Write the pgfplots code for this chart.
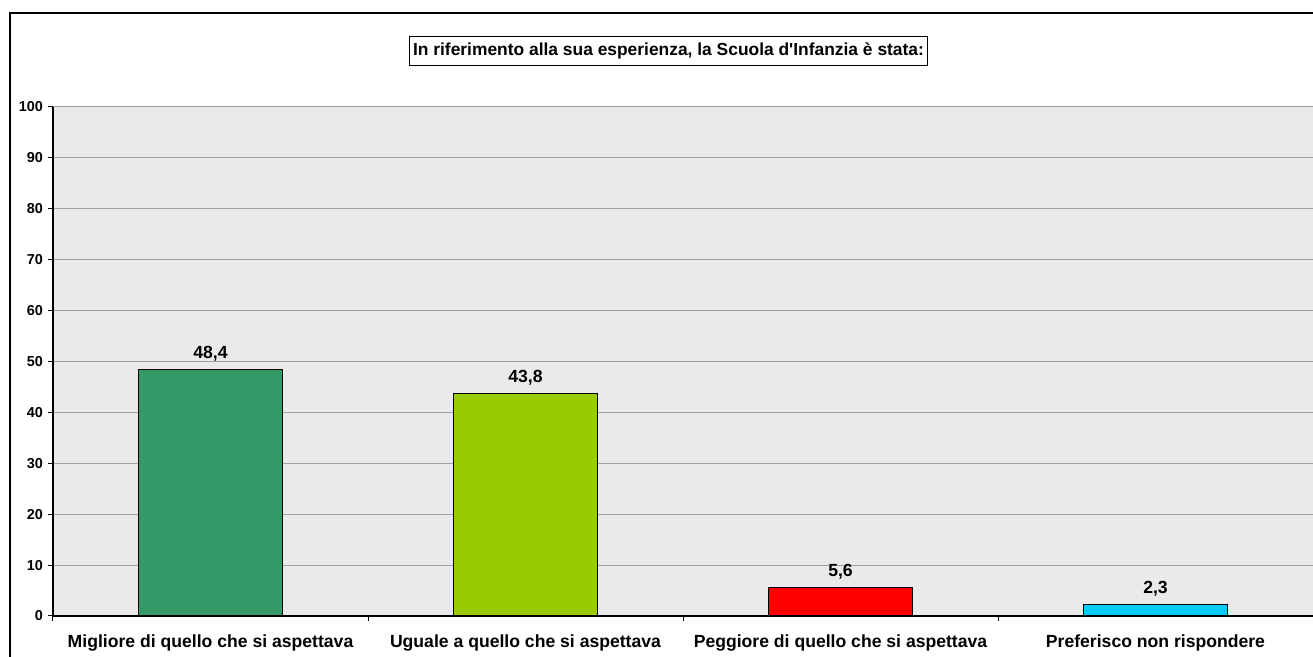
\documentclass[border=0pt]{standalone}
\usepackage{pgfplots}
\pgfplotsset{compat=1.18}
\usepackage{fontspec}
\setmainfont{Liberation Sans}[Ligatures=TeXOff]
\definecolor{cgreen}{HTML}{339966}
\definecolor{clime}{HTML}{99CC00}
\definecolor{cred}{HTML}{FF0000}
\definecolor{ccyan}{HTML}{00CCFF}
\definecolor{plotbg}{HTML}{EAEAEA}
\definecolor{gridgray}{HTML}{A0A0A0}
\begin{document}
\begin{tikzpicture}
% page = 1313 x 657 px, 1 px = 0.5pt
\path[use as bounding box] (0,0) rectangle (656.5pt,328.5pt);
\draw[line width=1.1pt] (5pt,-20pt) -- (5pt,322pt) -- (680pt,322pt);
\node[draw=black, line width=0.5pt, inner xsep=2pt, inner ysep=3pt,
      font=\bfseries\fontsize{8.7}{10}\selectfont] at (334.25pt,303pt)
  {In riferimento alla sua esperienza, la Scuola d'Infanzia è stata:};
\begin{axis}[
    at={(26.5pt,20.5pt)}, anchor=south west,
    scale only axis,
    width=630pt, height=254.5pt,
    xmin=0, xmax=4, ymin=0, ymax=100,
    ybar, bar width=72pt,
    axis lines*=left,
    axis line style={-, black, line width=0.6pt},
    axis background/.style={fill=plotbg},
    ymajorgrids, grid style={gridgray, line width=0.5pt},
    ytick={0,10,...,100},
    xtick={0,1,2,3,4}, xticklabels={},
    extra x ticks={0.5,1.5,2.5,3.5},
    extra x tick labels={Migliore di quello che si aspettava, Uguale a quello che si aspettava, Peggiore di quello che si aspettava, Preferisco non rispondere},
    extra x tick style={major tick length=0pt, grid=none,
        tick label style={font=\bfseries\fontsize{8.8}{10}\selectfont, yshift=-6pt}},
    tick align=outside, major tick length=2.5pt,
    tick style={black, line width=0.5pt},
    yticklabel style={font=\bfseries\fontsize{7.2}{8}\selectfont, xshift=1pt},
    /pgf/number format/assume math mode=true,
    nodes near coords,
    nodes near coords style={font=\bfseries\fontsize{8.8}{10}\selectfont, yshift=0.5pt,
        /pgf/number format/.cd, fixed, fixed zerofill, precision=1, use comma},
    every axis plot/.append style={bar shift=0pt, draw=black, line width=0.5pt},
]
\addplot[fill=cgreen] coordinates {(0.5,48.4)};
\addplot[fill=clime] coordinates {(1.5,43.8)};
\addplot[fill=cred] coordinates {(2.5,5.6)};
\addplot[fill=ccyan] coordinates {(3.5,2.3)};
\end{axis}
\end{tikzpicture}
\end{document}
